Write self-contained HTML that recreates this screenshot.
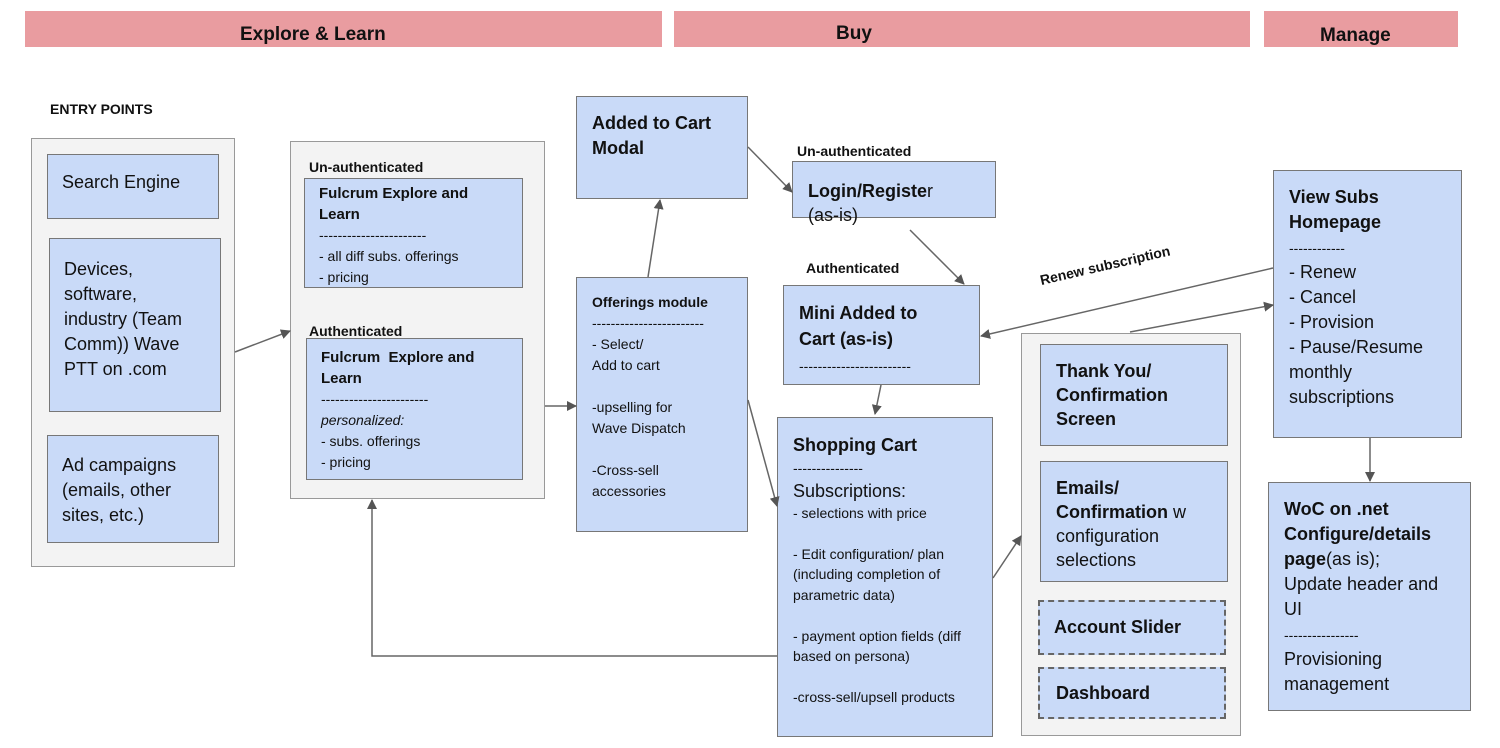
<!DOCTYPE html>
<html><head><meta charset="utf-8"><style>
body{margin:0;width:1500px;height:748px;background:#fff;position:relative;overflow:hidden;font-family:"Liberation Sans",Arial,sans-serif;color:#111}
.a{position:absolute;box-sizing:border-box}
.hb{background:#e99ca0}
.ht{font-weight:bold;font-size:19px;white-space:nowrap}
.g{background:#f3f3f3;border:1.5px solid #999}
.b{background:#c9daf8;border:1.5px solid #777;padding:8px 14px;font-size:16px;line-height:21px}
.bb{font-weight:bold;font-size:18px;line-height:25px}
.d{border:2.5px dashed #666}
.lb{font-weight:bold;font-size:14px}
.s{font-size:14px;line-height:21px}
</style></head><body>
<div class="a hb" style="left:25px;top:11px;width:637px;height:36px"></div>
<div class="a hb" style="left:674px;top:11px;width:576px;height:36px"></div>
<div class="a hb" style="left:1264px;top:11px;width:194px;height:36px"></div>
<div class="a ht" style="left:240px;top:24px">Explore &amp; Learn</div>
<div class="a ht" style="left:836px;top:23px">Buy</div>
<div class="a ht" style="left:1320px;top:25px">Manage</div>

<div class="a lb" style="left:50px;top:101px">ENTRY POINTS</div>
<div class="a g" style="left:31px;top:138px;width:204px;height:429px"></div>
<div class="a b" style="left:47px;top:154px;width:172px;height:65px;font-size:18px;padding-top:17px">Search Engine</div>
<div class="a b" style="left:49px;top:238px;width:172px;height:174px;font-size:18px;line-height:25px;padding:18px 24px 0 14px">Devices, software, industry (Team Comm)) Wave PTT on .com</div>
<div class="a b" style="left:47px;top:435px;width:172px;height:108px;font-size:18px;line-height:25px;padding:17px 20px 0 14px">Ad campaigns (emails, other sites, etc.)</div>

<div class="a g" style="left:290px;top:141px;width:255px;height:358px"></div>
<div class="a lb" style="left:309px;top:159px">Un-authenticated</div>
<div class="a b s" style="left:304px;top:178px;width:219px;height:110px;padding:4px 14px"><b style="font-size:15px">Fulcrum Explore and Learn</b><br>-----------------------<br>- all diff subs. offerings<br>- pricing</div>
<div class="a lb" style="left:309px;top:323px">Authenticated</div>
<div class="a b s" style="left:306px;top:338px;width:217px;height:142px;padding:8px 14px"><b style="font-size:15px">Fulcrum&nbsp; Explore and Learn</b><br>-----------------------<br><i>personalized:</i><br>- subs. offerings<br>- pricing</div>

<div class="a b bb" style="left:576px;top:96px;width:172px;height:103px;padding:14px 15px">Added to Cart Modal</div>
<div class="a b s" style="left:576px;top:277px;width:172px;height:255px;padding:14px 15px"><b>Offerings module</b><br>------------------------<br>- Select/<br>Add to cart<br><br>-upselling for<br>Wave Dispatch<br><br>-Cross-sell<br>accessories</div>

<div class="a lb" style="left:797px;top:143px">Un-authenticated</div>
<div class="a b" style="left:792px;top:161px;width:204px;height:57px;padding:17px 15px 0;font-size:18px;line-height:24px"><b>Login/Registe</b>r<br>(as-is)</div>
<div class="a lb" style="left:806px;top:260px">Authenticated</div>
<div class="a b bb" style="left:783px;top:285px;width:197px;height:100px;padding:14px 40px 0 15px;line-height:26px">Mini Added to Cart (as-is)<br><span style="font-weight:normal;font-size:14px;line-height:18px;white-space:nowrap">------------------------</span></div>

<div class="a b s" style="left:777px;top:417px;width:216px;height:320px;padding:14px 30px 0 15px;font-size:14px;line-height:20.5px"><b style="font-size:18px;line-height:26px;white-space:nowrap">Shopping Cart</b><br>---------------<br><span style="font-size:18px;line-height:24px;white-space:nowrap">Subscriptions:</span><br>- selections with price<br><br>- Edit configuration/ plan (including completion of parametric data)<br><br>- payment option fields (diff based on persona)<br><br>-cross-sell/upsell products</div>

<div class="a g" style="left:1021px;top:333px;width:220px;height:403px"></div>
<div class="a b bb" style="left:1040px;top:344px;width:188px;height:102px;padding:14px 15px;line-height:24px">Thank You/ Confirmation Screen</div>
<div class="a b" style="left:1040px;top:461px;width:188px;height:121px;padding:14px 15px;font-size:18px;line-height:24px"><b>Emails/ Confirmation</b> w configuration selections</div>
<div class="a b bb d" style="left:1038px;top:600px;width:188px;height:55px;padding:13px 14px">Account Slider</div>
<div class="a b bb d" style="left:1038px;top:667px;width:188px;height:52px;padding:12px 16px">Dashboard</div>

<div class="a b" style="left:1273px;top:170px;width:189px;height:268px;padding:14px 15px;font-size:18px;line-height:25px"><b>View Subs Homepage</b><br><span style="font-size:14px;line-height:18px">------------</span><br>- Renew<br>- Cancel<br>- Provision<br>- Pause/Resume monthly subscriptions</div>
<div class="a b" style="left:1268px;top:482px;width:203px;height:229px;padding:14px 30px 0 15px;font-size:18px;line-height:25px"><b>WoC on .net Configure/details page</b>(as is); Update header and UI<br><span style="font-size:14px;line-height:18px">----------------</span><br>Provisioning management</div>

<div class="a" style="left:1042px;top:272px;font-size:14px;font-weight:bold;transform:rotate(-13deg);transform-origin:left bottom;white-space:nowrap">Renew subscription</div>

<svg class="a" style="left:0;top:0" width="1500" height="748">
<defs><marker id="m" markerWidth="10" markerHeight="10" refX="9" refY="5" orient="auto" markerUnits="userSpaceOnUse"><path d="M0,0 L10,5 L0,10z" fill="#555"/></marker></defs>
<g stroke="#666" stroke-width="1.5" fill="none" marker-end="url(#m)">
<line x1="235" y1="352" x2="290" y2="331"/>
<line x1="545" y1="406" x2="576" y2="406"/>
<line x1="648" y1="277" x2="660" y2="200"/>
<line x1="748" y1="147" x2="792" y2="192"/>
<line x1="910" y1="230" x2="964" y2="284"/>
<line x1="881" y1="385" x2="875" y2="414"/>
<line x1="748" y1="400" x2="777" y2="506"/>
<polyline points="777,656 372,656 372,500"/>
<line x1="993" y1="578" x2="1021" y2="536"/>
<line x1="1273" y1="268" x2="981" y2="336"/>
<line x1="1130" y1="332" x2="1273" y2="305"/>
<line x1="1370" y1="438" x2="1370" y2="481"/>
</g></svg>
</body></html>
